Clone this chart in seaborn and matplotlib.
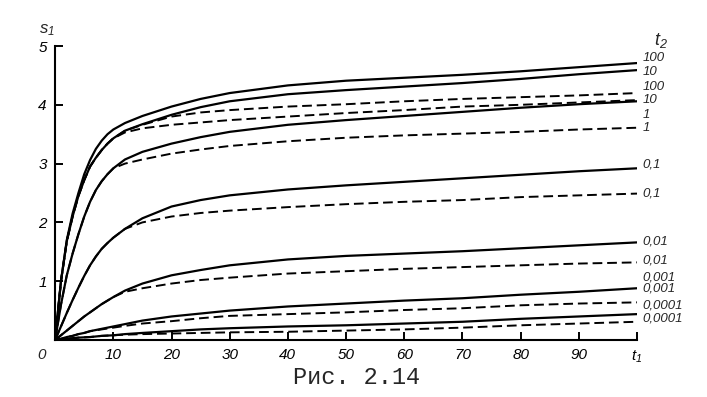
import matplotlib
matplotlib.use("Agg")
import matplotlib.pyplot as plt
import seaborn as sns

# t1 grid shared by every curve
T1 = [0, 1, 2, 3, 4, 5, 6, 7, 8, 9, 10, 12, 15, 20, 25, 30, 40, 50, 60, 70, 80, 90, 100]

# solid curves, one per t2
S_100 = [0, 1.0, 1.7, 2.15, 2.5, 2.82, 3.06, 3.25, 3.39, 3.5, 3.58, 3.69, 3.81, 3.97, 4.1, 4.2, 4.33, 4.41, 4.46, 4.51, 4.57, 4.64, 4.71]
S_10 = [0, 1.0, 1.68, 2.1, 2.45, 2.72, 2.95, 3.1, 3.23, 3.34, 3.43, 3.56, 3.67, 3.83, 3.96, 4.06, 4.18, 4.25, 4.31, 4.37, 4.44, 4.52, 4.59]
S_1 = [0, 0.6, 1.1, 1.47, 1.8, 2.1, 2.35, 2.55, 2.7, 2.82, 2.92, 3.07, 3.2, 3.34, 3.45, 3.54, 3.66, 3.74, 3.81, 3.88, 3.95, 4.01, 4.06]
S_01 = [0, 0.23, 0.46, 0.68, 0.89, 1.09, 1.27, 1.42, 1.55, 1.65, 1.74, 1.89, 2.07, 2.27, 2.38, 2.46, 2.56, 2.63, 2.69, 2.75, 2.81, 2.87, 2.92]
S_001 = [0, 0.08, 0.16, 0.24, 0.32, 0.4, 0.47, 0.54, 0.61, 0.67, 0.73, 0.84, 0.96, 1.1, 1.19, 1.27, 1.37, 1.43, 1.47, 1.51, 1.56, 1.61, 1.66]
S_0001 = [0, 0.02, 0.05, 0.07, 0.1, 0.12, 0.15, 0.17, 0.19, 0.21, 0.23, 0.27, 0.33, 0.4, 0.45, 0.5, 0.57, 0.62, 0.67, 0.71, 0.77, 0.82, 0.88]
S_00001 = [0, 0.01, 0.02, 0.03, 0.04, 0.045, 0.05, 0.06, 0.07, 0.075, 0.08, 0.1, 0.12, 0.15, 0.18, 0.2, 0.23, 0.25, 0.28, 0.31, 0.36, 0.4, 0.44]

# dashed curves, one per t2 (they leave the solid ones at t1 ~ 10-12)
D_100 = [0, 1.0, 1.68, 2.1, 2.45, 2.72, 2.95, 3.1, 3.23, 3.34, 3.43, 3.56, 3.66, 3.8, 3.87, 3.91, 3.97, 4.01, 4.06, 4.1, 4.13, 4.16, 4.2]
D_10 = [0, 1.0, 1.68, 2.1, 2.45, 2.72, 2.95, 3.1, 3.23, 3.34, 3.43, 3.53, 3.6, 3.66, 3.7, 3.74, 3.8, 3.86, 3.91, 3.97, 4.0, 4.04, 4.08]
D_1 = [0, 0.6, 1.1, 1.47, 1.8, 2.1, 2.35, 2.55, 2.7, 2.82, 2.92, 3.0, 3.07, 3.17, 3.24, 3.3, 3.38, 3.44, 3.48, 3.51, 3.54, 3.58, 3.61]
D_01 = [0, 0.23, 0.46, 0.68, 0.89, 1.09, 1.27, 1.42, 1.55, 1.65, 1.74, 1.89, 2.0, 2.1, 2.16, 2.2, 2.26, 2.31, 2.35, 2.38, 2.43, 2.46, 2.49]
D_001 = [0, 0.08, 0.16, 0.24, 0.32, 0.4, 0.47, 0.54, 0.61, 0.67, 0.73, 0.82, 0.88, 0.96, 1.02, 1.06, 1.13, 1.17, 1.21, 1.24, 1.27, 1.3, 1.32]
D_0001 = [0, 0.02, 0.05, 0.07, 0.1, 0.12, 0.15, 0.165, 0.18, 0.195, 0.21, 0.24, 0.28, 0.32, 0.37, 0.41, 0.44, 0.47, 0.51, 0.54, 0.59, 0.62, 0.64]
D_00001 = [0, 0.01, 0.02, 0.03, 0.04, 0.045, 0.05, 0.06, 0.07, 0.075, 0.08, 0.09, 0.1, 0.11, 0.12, 0.13, 0.14, 0.16, 0.18, 0.21, 0.25, 0.28, 0.31]

SOLID = [S_100, S_10, S_1, S_01, S_001, S_0001, S_00001]
DASHED = [D_100, D_10, D_1, D_01, D_001, D_0001, D_00001]

# t2 labels at the right edge, top to bottom
END_LABELS = ["100", "10", "100", "10", "1", "1", "0,1", "0,1",
              "0,01", "0,01", "0,001", "0,001", "0,0001", "0,0001"]
END_LABEL_Y = [4.80, 4.55, 4.30, 4.08, 3.83, 3.61, 2.99, 2.50,
               1.68, 1.36, 1.06, 0.87, 0.59, 0.36]

X_TICKS = [10, 20, 30, 40, 50, 60, 70, 80, 90, 100]
X_TICK_LABELS = ["10", "20", "30", "40", "50", "60", "70", "80", "90", "$t_1$"]
Y_TICKS = [1, 2, 3, 4, 5]

sns.set_theme(style="ticks", rc={"axes.linewidth": 1.5, "axes.edgecolor": "black"})
plt.rcParams["font.family"] = ["Liberation Sans", "DejaVu Sans"]
plt.rcParams["mathtext.fontset"] = "custom"
plt.rcParams["mathtext.it"] = "Liberation Sans:italic"
plt.rcParams["mathtext.rm"] = "Liberation Sans:italic"

fig = plt.figure(figsize=(7.07, 3.97), dpi=100)
ax = fig.add_axes([0.078, 0.1436, 0.823, 0.7405])

for vals in SOLID:
    sns.lineplot(x=T1, y=vals, ax=ax, color="black", lw=1.6)
for vals in DASHED:
    sns.lineplot(x=T1, y=vals, ax=ax, color="black", lw=1.4,
                 linestyle=(0, (5, 2.5)))

ax.set_xlim(0, 100)
ax.set_ylim(0, 5)
ax.set_xticks(X_TICKS)
ax.set_xticklabels(X_TICK_LABELS, fontstyle="italic", fontsize=11)
ax.set_yticks(Y_TICKS)
ax.set_yticklabels([str(v) for v in Y_TICKS], fontstyle="italic", fontsize=11)
ax.tick_params(axis="both", direction="in", length=6, width=1.4, colors="black")
ax.tick_params(axis="x", pad=6)
ax.tick_params(axis="y", pad=6)
ax.set_xlabel("")
ax.set_ylabel("")
sns.despine(ax=ax)

ax.text(-2.3, -0.26, "0", ha="center", va="center", fontstyle="italic",
        fontsize=11, clip_on=False)
ax.text(-1.4, 5.27, "$s_1$", ha="center", va="center", fontsize=12,
        clip_on=False)
ax.text(103.0, 5.10, "$t_2$", ha="left", va="center", fontsize=13,
        clip_on=False)
for lab, yv in zip(END_LABELS, END_LABEL_Y):
    ax.text(101.0, yv, lab, ha="left", va="center", fontstyle="italic",
            fontsize=9.5, clip_on=False)

fig.text(0.505, 0.048, "Рис. 2.14", ha="center", va="center",
         family=["Liberation Mono", "DejaVu Sans Mono"], fontsize=17)

fig.savefig("out.png", dpi=100)
